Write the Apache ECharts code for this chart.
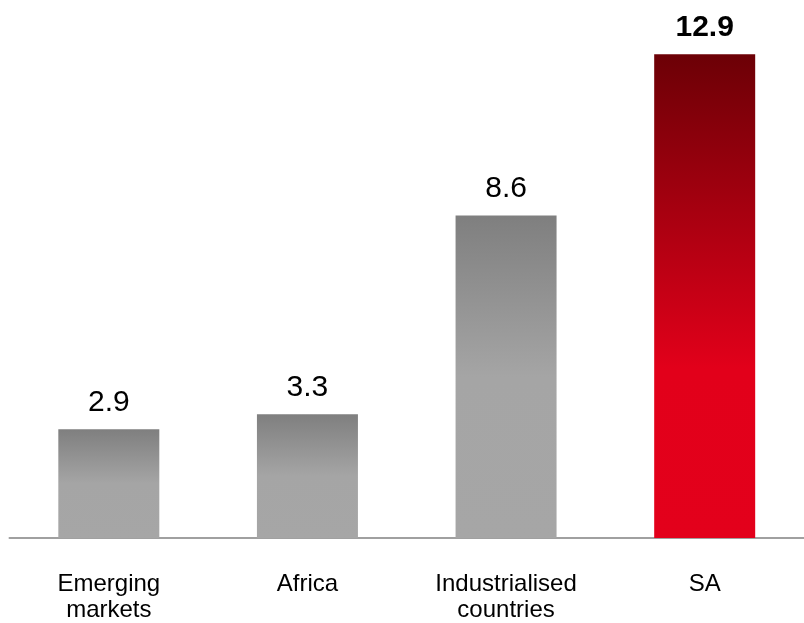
<!DOCTYPE html>
<html>
<head>
<meta charset="utf-8">
<script src="https://cdn.jsdelivr.net/npm/echarts@6/dist/echarts.min.js"></script>
<style>
html,body{margin:0;padding:0;background:#fff;}
#chart{width:804px;height:623px;}
</style>
</head>
<body>
<div id="chart"></div>
<script>
var categories = ['Emerging\nmarkets', 'Africa', 'Industrialised\ncountries', 'SA'];
var values = [2.9, 3.3, 8.6, 12.9];
var highlight = [false, false, false, true];

var grayGrad = new echarts.graphic.LinearGradient(0, 0, 0, 1, [
  {offset: 0, color: '#7f7f7f'},
  {offset: 0.5, color: '#a5a5a5'},
  {offset: 1, color: '#a6a6a6'}
]);
var redGrad = new echarts.graphic.LinearGradient(0, 0, 0, 1, [
  {offset: 0, color: '#6c0006'},
  {offset: 0.65, color: '#e2001a'},
  {offset: 1, color: '#e3001b'}
]);

var data = values.map(function (v, i) {
  return {
    value: v,
    itemStyle: {color: highlight[i] ? redGrad : grayGrad},
    label: {fontWeight: highlight[i] ? 'bold' : 'normal'}
  };
});

var chart = echarts.init(document.getElementById('chart'));
chart.setOption({
  animation: false,
  backgroundColor: '#ffffff',
  grid: {left: 9.5, right: -5.5, top: 13.1, bottom: 83.5, containLabel: false},
  xAxis: {
    type: 'category',
    data: categories,
    axisLine: {show: true, lineStyle: {color: '#a0a0a0', width: 2}},
    axisTick: {show: false},
    axisLabel: {
      color: '#000',
      fontFamily: 'Liberation Sans, Arial, sans-serif',
      fontSize: 24,
      lineHeight: 26,
      margin: 33,
      interval: 0
    }
  },
  yAxis: {
    type: 'value',
    min: 0,
    max: 14,
    show: false,
    splitLine: {show: false}
  },
  series: [{
    type: 'bar',
    data: data,
    barWidth: 101,
    label: {
      show: true,
      position: 'top',
      distance: 12,
      color: '#000',
      fontFamily: 'Liberation Sans, Arial, sans-serif',
      fontSize: 30,
      formatter: function (p) { return p.value.toFixed(1); }
    }
  }]
});
</script>
</body>
</html>
